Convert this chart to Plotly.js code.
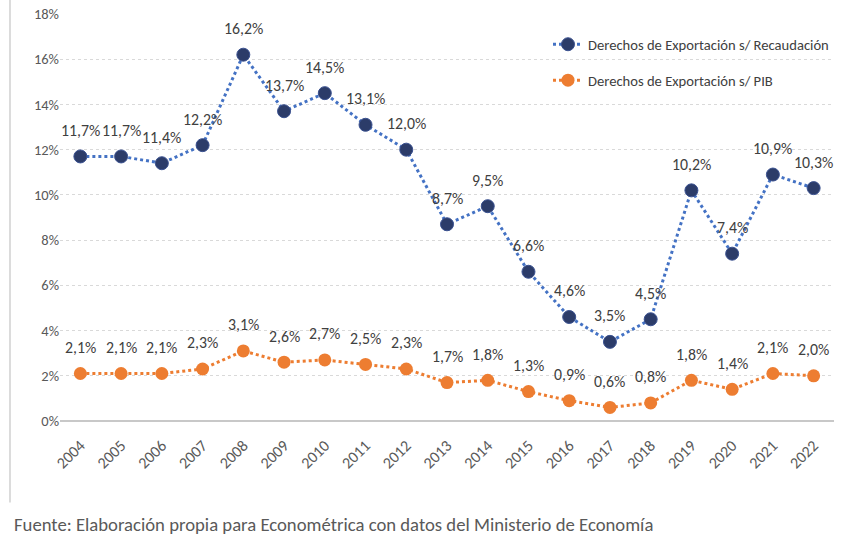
<!DOCTYPE html>
<html><head><meta charset="utf-8">
<script src="https://cdn.plot.ly/plotly-3.0.1.min.js"></script>
<style>html,body{margin:0;padding:0;background:#fff;}#chart{width:844px;height:542px;}</style>
</head><body><div id="chart"></div>
<script>
const years = ["2004","2005","2006","2007","2008","2009","2010","2011","2012","2013","2014","2015","2016","2017","2018","2019","2020","2021","2022"];
const recaudacion = [11.7,11.7,11.4,12.2,16.2,13.7,14.5,13.1,12.0,8.7,9.5,6.6,4.6,3.5,4.5,10.2,7.4,10.9,10.3];
const pib = [2.1,2.1,2.1,2.3,3.1,2.6,2.7,2.5,2.3,1.7,1.8,1.3,0.9,0.6,0.8,1.8,1.4,2.1,2.0];
const seriesNames = ["Derechos de Exportación s/ Recaudación","Derechos de Exportación s/ PIB"];
const source = "Fuente: Elaboración propia para Econométrica con datos del Ministerio de Economía";

const FONT = "Carlito, 'Open Sans', sans-serif";
const fmt = v => v.toFixed(1).replace('.', ',') + '%';

const traces = [
  {x: years, y: recaudacion, name: seriesNames[0], type: 'scatter', mode: 'lines+markers',
   legendgroup: 'a',
   line: {color: '#4472c4', width: 3, dash: 'dot'},
   marker: {color: '#2c3c69', size: 13, line: {color: '#3a5190', width: 1}},
   hoverinfo: 'skip'},
  {x: years, y: pib, name: seriesNames[1], type: 'scatter', mode: 'lines+markers',
   legendgroup: 'b',
   line: {color: '#ed7d31', width: 3, dash: 'dot'},
   marker: {color: '#ed7d31', size: 13},
   hoverinfo: 'skip'}
];

const labelFont = {family: FONT, size: 15.8, color: '#404040'};
const annotations = [];
[recaudacion, pib].forEach(series => {
  series.forEach((v, i) => {
    // category axis: annotation x is the category's serial number
    annotations.push({x: i, y: v, xref: 'x', yref: 'y', text: fmt(v), showarrow: false,
      yshift: 26, xanchor: 'center', yanchor: 'middle', font: labelFont});
  });
});
annotations.push({text: source, xref: 'paper', yref: 'paper', x: -0.062, y: -0.2555,
  xanchor: 'left', yanchor: 'middle', showarrow: false, font: {family: FONT, size: 18.7, color: '#595959'}});

const layout = {
  width: 844, height: 542,
  margin: {l: 60, r: 10, t: 14, b: 121},
  paper_bgcolor: '#ffffff', plot_bgcolor: '#ffffff',
  font: {family: FONT, color: '#595959', size: 14},
  showlegend: true,
  legend: {x: 1, xanchor: 'right', y: 0.965, yanchor: 'top', traceorder: 'grouped', tracegroupgap: 14,
           font: {family: FONT, size: 14.6, color: '#404040'}, bgcolor: 'rgba(255,255,255,0)'},
  xaxis: {type: 'category', range: [-0.5, 18.5], tickangle: -45, showgrid: false, zeroline: false,
          showline: false, ticks: '', ticklabelstandoff: 11,
          tickfont: {family: FONT, size: 16, color: '#595959'}, fixedrange: true},
  yaxis: {range: [0, 18], dtick: 2, ticksuffix: '%', showgrid: true, gridcolor: '#d9d9d9', griddash: 'dot',
          gridwidth: 1, zeroline: true, zerolinecolor: '#c8c8c8', zerolinewidth: 2, showline: false,
          tickfont: {family: FONT, size: 14.5, color: '#595959'}, ticks: '', fixedrange: true},
  shapes: [
    {type: 'line', xref: 'paper', yref: 'paper', x0: -0.0646, x1: -0.0646, y0: -0.2, y1: 1.04,
     line: {color: '#d0d0d0', width: 1.5}}
  ],
  annotations: annotations
};

Plotly.newPlot('chart', traces, layout, {displayModeBar: false, staticPlot: true});
</script>
</body></html>
